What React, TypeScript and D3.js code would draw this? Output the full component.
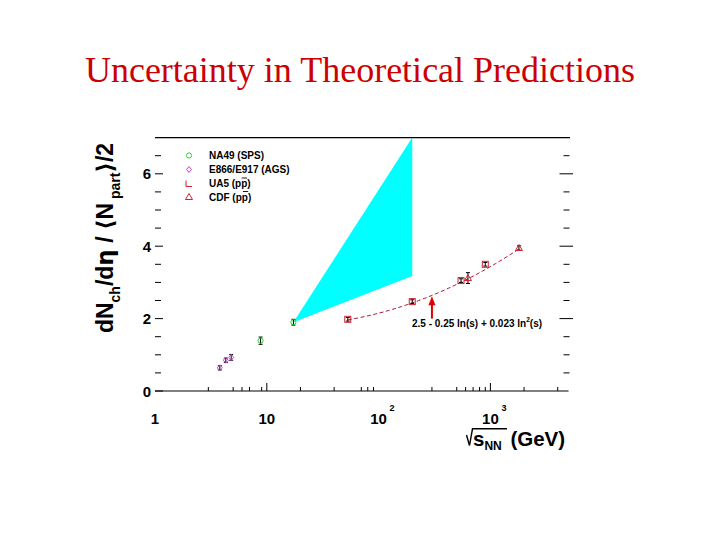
import React from "react";
import * as d3 from "d3";

// ---- data ----
const na49S = [8.8, 17.3];
const na49V = [1.39, 1.9];
const na49E = [0.1, 0.08];

const agsS = [3.8, 4.3, 4.8];
const agsV = [0.64, 0.85, 0.93];
const agsE = [0.06, 0.06, 0.08];

const ua5S = [53, 200, 546, 900];
const ua5V = [1.98, 2.47, 3.05, 3.5];
const ua5E = [0.05, 0.05, 0.05, 0.05];

const cdfS = [630, 1800];
const cdfV = [3.12, 3.95];
const cdfE = [0.15, 0.06];

// theory band at RHIC
const bandS = [17.3, 200];
const bandLo = [1.9, 3.18];
const bandHi = [1.9, 7.0];

// fit 2.5 - 0.25 ln(s) + 0.023 ln^2(s), s = sqrtS^2
const fitRange = [53, 1800];
const arrowS = 300;
const arrowFrom = 2.0;
const arrowTo = 2.62;

const xMajor = [1, 10, 100, 1000];
const xMajorTicks = [10, 1000];
const xMinorTicks = [3, 5, 6, 7, 9, 20, 40, 70, 80, 90, 300, 500, 600, 700, 800, 900, 2000, 4000];
const yMajor = [0, 2, 4, 6];
const yMinor = [0.5, 1, 1.5, 2.5, 3, 3.5, 4.5, 5, 5.5, 6.5];

const legendItems = ["NA49 (SPS)", "E866/E917 (AGS)", "UA5 (pp)", "CDF (pp)"];

const FONT = "'Liberation Sans', Arial, Helvetica, sans-serif";
const GREEN = "#33cc33";
const VIOLET = "#cc44cc";
const RED = "#cc2233";

export default function App() {
  const x = d3.scaleLog().domain([1, 5000]).range([155, 155 + 111.8 * Math.log10(5000)]);
  const y = d3.scaleLinear().domain([0, 7]).range([391, 137.6]);
  const [x0, x1] = x.range();

  const fitFn = (r: number) => {
    const ls = Math.log(r * r);
    return 2.5 - 0.25 * ls + 0.023 * ls * ls;
  };
  const fitPts: [number, number][] = [];
  const n = 80;
  for (let i = 0; i <= n; i++) {
    const lr = Math.log10(fitRange[0]) + (i / n) * (Math.log10(fitRange[1]) - Math.log10(fitRange[0]));
    const r = Math.pow(10, lr);
    fitPts.push([x(r), y(fitFn(r))]);
  }
  const fitPath = d3.line()(fitPts) || "";

  const bandPath =
    d3
      .area<number>()
      .x((_, i) => x(bandS[i]))
      .y0((_, i) => y(bandLo[i]))
      .y1((_, i) => y(bandHi[i]))(bandS.map((_, i) => i)) || "";

  const errBar = (sx: number, v: number, e: number, key: string) => {
    const cx = x(sx);
    return (
      <g key={key} stroke="#000" strokeWidth={1}>
        <line x1={cx} x2={cx} y1={y(v + e)} y2={y(v - e)} />
        <line x1={cx - 2} x2={cx + 2} y1={y(v + e)} y2={y(v + e)} />
        <line x1={cx - 2} x2={cx + 2} y1={y(v - e)} y2={y(v - e)} />
      </g>
    );
  };

  const circle = (cx: number, cy: number, key: string) => (
    <circle key={key} cx={cx} cy={cy} r={2.6} fill="none" stroke={GREEN} strokeWidth={1} />
  );
  const diamond = (cx: number, cy: number, key: string) => (
    <path key={key} d={`M${cx},${cy - 3}L${cx + 2.5},${cy}L${cx},${cy + 3}L${cx - 2.5},${cy}Z`} fill="none" stroke={VIOLET} strokeWidth={1} />
  );
  const square = (cx: number, cy: number, key: string) => (
    <rect key={key} x={cx - 3} y={cy - 3} width={6} height={6} fill="none" stroke={RED} strokeWidth={1} />
  );
  const lmark = (cx: number, cy: number, key: string) => (
    <path key={key} d={`M${cx - 3},${cy - 3}L${cx - 3},${cy + 3}L${cx + 3},${cy + 3}`} fill="none" stroke={RED} strokeWidth={1} />
  );
  const triangle = (cx: number, cy: number, key: string) => (
    <path key={key} d={`M${cx},${cy - 3.5}L${cx + 3.5},${cy + 2.5}L${cx - 3.5},${cy + 2.5}Z`} fill="none" stroke={RED} strokeWidth={1} />
  );

  const legendRows = [155.5, 169.5, 183.5, 197];
  const legendMarkers = [circle, diamond, lmark, triangle];

  const ax = x(arrowS);

  return (
    <svg width={720} height={540} style={{ position: "absolute", left: 0, top: 0, background: "#fff" }}>
      <rect x={0} y={0} width={720} height={540} fill="#fff" />
      <text x={360} y={82} textAnchor="middle" fontFamily="'Liberation Serif', 'Times New Roman', serif" fontSize={36} fill="#cc0000">
        Uncertainty in Theoretical Predictions
      </text>

      {/* band */}
      <path d={bandPath} fill="#00ffff" stroke="none" />

      {/* frame lines */}
      <line x1={x0} x2={570} y1={y(7)} y2={y(7)} stroke="#000" strokeWidth={1.2} />
      <line x1={x0} x2={x1} y1={y(0)} y2={y(0)} stroke="#000" strokeWidth={1.2} />

      {/* x ticks */}
      {xMajorTicks.map((t) => (
        <line key={"xM" + t} x1={x(t)} x2={x(t)} y1={y(0)} y2={y(0) - 8} stroke="#000" />
      ))}
      {xMinorTicks.map((t) => (
        <line key={"xm" + t} x1={x(t)} x2={x(t)} y1={y(0)} y2={y(0) - 4} stroke="#000" />
      ))}
      {/* y ticks left and right */}
      {yMajor.map((t) => (
        <g key={"yM" + t} stroke="#000">
          <line x1={x0} x2={x0 + 8} y1={y(t)} y2={y(t)} />
          {t > 0 && <line x1={559.5} x2={573} y1={y(t)} y2={y(t)} />}
        </g>
      ))}
      {yMinor.map((t) => (
        <g key={"ym" + t} stroke="#000">
          <line x1={x0} x2={x0 + 6} y1={y(t)} y2={y(t)} />
          <line x1={563.5} x2={569.5} y1={y(t)} y2={y(t)} />
        </g>
      ))}

      {/* x tick labels */}
      {xMajor.map((t) => {
        const e = Math.round(Math.log10(t));
        const base = e < 2 ? String(t) : "10";
        return (
          <g key={"xl" + t} fontFamily={FONT} fontWeight="bold" fill="#000">
            <text x={x(t)} y={423.5} fontSize={15} textAnchor="middle">
              {base}
            </text>
            {e >= 2 && (
              <text x={x(t) + 11} y={411} fontSize={9}>
                {e}
              </text>
            )}
          </g>
        );
      })}
      {/* y tick labels */}
      {yMajor.map((t) => (
        <text key={"yl" + t} x={151} y={y(t) + 5.5} fontSize={15} textAnchor="end" fontFamily={FONT} fontWeight="bold">
          {t}
        </text>
      ))}

      {/* y axis title */}
      <text
        transform="translate(113,238) rotate(-90)"
        textAnchor="middle"
        fontFamily={FONT}
        fontWeight="bold"
        fontSize={23}
        fill="#000"
      >
        dN
        <tspan fontSize={14} dy={7}>ch</tspan>
        <tspan dy={-7}>/d</tspan>
        <tspan fontFamily="'DejaVu Sans', sans-serif">η</tspan>
        <tspan> / </tspan>
        <tspan fontFamily="'DejaVu Sans', sans-serif">⟨</tspan>
        <tspan>N</tspan>
        <tspan fontSize={14} dy={7}> part</tspan>
        <tspan dy={-7} fontFamily="'DejaVu Sans', sans-serif">⟩</tspan>
        <tspan>/2</tspan>
      </text>

      {/* x axis title */}
      <path d="M466.5,435 L469.5,445.5 L472.5,428.8 L507,428.8" fill="none" stroke="#000" strokeWidth={1.4} />
      <text x={473} y={445.5} fontFamily={FONT} fontWeight="bold" fontSize={20.5} fill="#000">
        s
        <tspan fontSize={12} dy={4}>NN</tspan>
        <tspan dy={-4} dx={3}> (GeV)</tspan>
      </text>

      {/* fit */}
      <path d={fitPath} fill="none" stroke="#b01030" strokeWidth={1} strokeDasharray="4,2.5" />

      {/* arrow */}
      <line x1={ax} x2={ax} y1={y(arrowFrom)} y2={y(arrowTo) + 7} stroke="#e00000" strokeWidth={2} />
      <path d={`M${ax},${y(arrowTo)} L${ax + 3.5},${y(arrowTo) + 9} L${ax - 3.5},${y(arrowTo) + 9} Z`} fill="#e00000" />
      <text x={412} y={326.5} fontFamily={FONT} fontWeight="bold" fontSize={10} fill="#000">
        2.5 - 0.25 ln(s) + 0.023 ln
        <tspan fontSize={6.5} dy={-5}>2</tspan>
        <tspan dy={5}>(s)</tspan>
      </text>

      {/* data */}
      {agsS.map((s, i) => errBar(s, agsV[i], agsE[i], "ae" + i))}
      {na49S.map((s, i) => errBar(s, na49V[i], na49E[i], "ne" + i))}
      {ua5S.map((s, i) => errBar(s, ua5V[i], ua5E[i], "ue" + i))}
      {cdfS.map((s, i) => errBar(s, cdfV[i], cdfE[i], "ce" + i))}
      {agsS.map((s, i) => diamond(x(s), y(agsV[i]), "a" + i))}
      {na49S.map((s, i) => circle(x(s), y(na49V[i]), "n" + i))}
      {ua5S.map((s, i) => square(x(s), y(ua5V[i]), "u" + i))}
      {cdfS.map((s, i) => triangle(x(s), y(cdfV[i]), "c" + i))}

      {/* legend */}
      {legendItems.map((label, i) => (
        <g key={"lg" + i}>
          {legendMarkers[i](189, legendRows[i], "lm" + i)}
          <text x={209} y={legendRows[i] + 3.5} fontFamily={FONT} fontWeight="bold" fontSize={10} fill="#000">
            {label}
          </text>
        </g>
      ))}
      {/* overlines on p-bar */}
      {[2, 3].map((i) => {
        const pre = i === 2 ? 32.2 : 33.4;
        return (
          <line key={"ol" + i} x1={209 + pre + 0.5} x2={209 + pre + 5.8} y1={legendRows[i] - 5.5} y2={legendRows[i] - 5.5} stroke="#000" strokeWidth={0.9} />
        );
      })}
    </svg>
  );
}
